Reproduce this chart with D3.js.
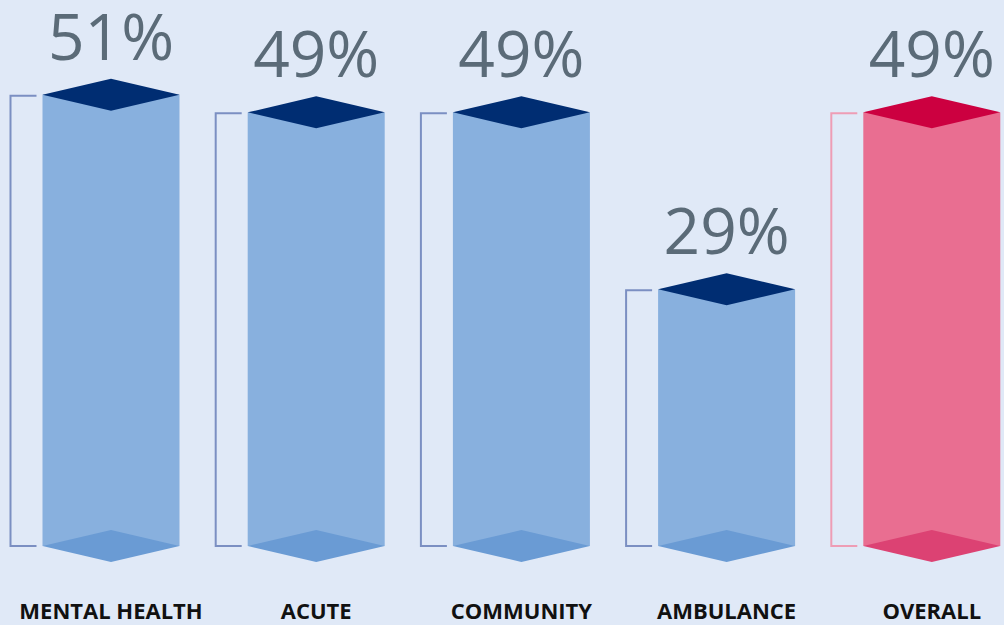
<!DOCTYPE html>
<html>
<head>
<meta charset="utf-8">
<script src="https://cdn.jsdelivr.net/npm/d3@7"></script>
<style>
  html, body { margin: 0; padding: 0; background: #e0e9f7; }
  svg { display: block; }
</style>
</head>
<body>
<svg id="chart"></svg>
<script>
// data
var categories = ['MENTAL HEALTH', 'ACUTE', 'COMMUNITY', 'AMBULANCE', 'OVERALL']
var values = [51, 49, 49, 29, 49]
var highlight = ['OVERALL']

var width = 1004,
    height = 625;

var svg = d3.select('#chart')
    .attr('width', width)
    .attr('height', height)

svg.append('rect')
    .attr('width', width)
    .attr('height', height)
    .attr('fill', '#e0e9f7')

var xScale = d3.scaleBand()
    .domain(categories)
    .range([8.4, 1034.4])
    .paddingInner(0.33)
    .paddingOuter(0.165)

var yScale = d3.scaleLinear()
    .domain([0, 60])
    .range([546, 15])

var barW = 137,
    dh = 16   // half height of the diamonds

var colors = {
    normal: { body: '#88b0de', top: '#002d72', bottom: '#6a9bd4', bracket: '#7b8fc2' },
    hi: { body: '#e96e91', top: '#cc0040', bottom: '#dc4273', bracket: '#ee9db5' }
}

var data = categories.map(function(c, i) {
    return { cat: c, value: values[i], col: highlight.indexOf(c) >= 0 ? colors.hi : colors.normal }
})

var groups = svg.selectAll('g.bar')
    .data(data)
    .join('g')
    .attr('class', 'bar')
    .attr('transform', d => 'translate(' + (xScale(d.cat) + xScale.bandwidth() / 2) + ',0)')

// bracket on the left
groups.append('path')
    .attr('fill', 'none')
    .attr('stroke', d => d.col.bracket)
    .attr('stroke-width', 2)
    .attr('d', function(d) {
        var x0 = -barW / 2 - 32, x1 = -barW / 2 - 6
        var yt = yScale(d.value) + 1, yb = yScale(0)
        return 'M' + x1 + ',' + yt + 'H' + x0 + 'V' + yb + 'H' + x1
    })

// body
groups.append('rect')
    .attr('x', -barW / 2)
    .attr('width', barW)
    .attr('y', d => yScale(d.value))
    .attr('height', d => yScale(0) - yScale(d.value))
    .attr('fill', d => d.col.body)

// bottom diamond
groups.append('path')
    .attr('fill', d => d.col.bottom)
    .attr('d', function(d) {
        var y = yScale(0)
        return 'M' + (-barW / 2) + ',' + y + 'L0,' + (y - dh) + 'L' + (barW / 2) + ',' + y + 'L0,' + (y + dh) + 'Z'
    })

// top diamond
groups.append('path')
    .attr('fill', d => d.col.top)
    .attr('d', function(d) {
        var y = yScale(d.value)
        return 'M' + (-barW / 2) + ',' + y + 'L0,' + (y - dh) + 'L' + (barW / 2) + ',' + y + 'L0,' + (y + dh) + 'Z'
    })

// value labels
groups.append('text')
    .attr('text-anchor', 'middle')
    .attr('y', d => yScale(d.value) - 35)
    .attr('font-family', 'Open Sans, sans-serif')
    .attr('font-size', 64)
    .attr('fill', '#5b6b78')
    .text(d => d.value + '%')

// category labels
groups.append('text')
    .attr('text-anchor', 'middle')
    .attr('y', 619)
    .attr('font-family', 'Open Sans, sans-serif')
    .attr('font-weight', 700)
    .attr('font-size', 22)
    .attr('fill', '#111')
    .text(d => d.cat)
</script>
</body>
</html>
